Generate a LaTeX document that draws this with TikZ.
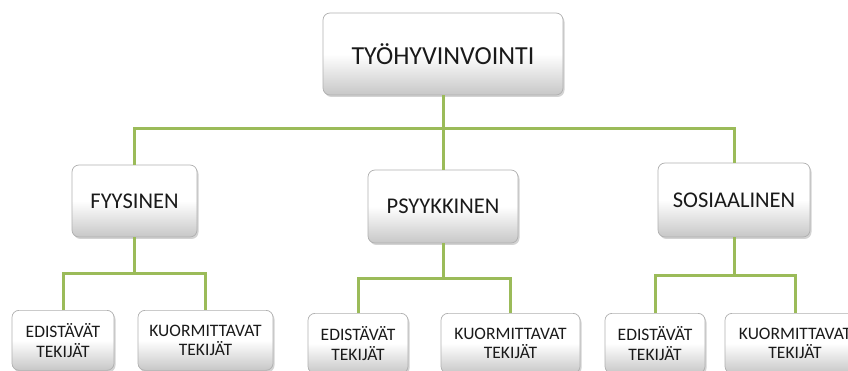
\documentclass[tikz,border=0pt]{standalone}
\usepackage{fontspec}
\setmainfont{Carlito}
\usetikzlibrary{calc,shadows}
\definecolor{olive}{HTML}{9BBB59}
\definecolor{boxline}{HTML}{B0B0B0}
\definecolor{ink}{HTML}{1A1A1A}
\begin{document}
\begin{tikzpicture}[x=1pt,y=-1pt,
    box/.style={draw=boxline, line width=0.7pt, rounded corners=7pt,
        top color=white, bottom color=black!22, middle color=white,
        drop shadow={opacity=0.35, shadow xshift=1.5pt, shadow yshift=-2pt},
        text=ink, align=center, inner sep=2pt},
    link/.style={olive, line width=3pt}]
        \useasboundingbox (0,0) rectangle (848,371);
        \clip (0,0) rectangle (848,371);
        \node[box, minimum width=240pt, minimum height=82pt, font=\fontsize{26}{30}\selectfont] (work) at (443,54) {TYÖHYVINVOINTI};
        \node[box, minimum width=125pt, minimum height=72pt, font=\fontsize{22.5}{26}\selectfont] (fyys) at (134.5,201) {FYYSINEN};
        \node[box, minimum width=150pt, minimum height=73pt, font=\fontsize{22.5}{26}\selectfont] (psy) at (443,206.5) {PSYYKKINEN};
        \node[box, minimum width=152pt, minimum height=74pt, font=\fontsize{22.5}{26}\selectfont] (sos) at (734,200) {SOSIAALINEN};
        \foreach \n/\x/\w/\y/\t in {f1/63/102/310/{EDISTÄVÄT\\TEKIJÄT}, f2/205.5/135/310/{KUORMITTAVAT\\TEKIJÄT},
                                   p1/358/100/313/{EDISTÄVÄT\\TEKIJÄT}, p2/510.5/139/313/{KUORMITTAVAT\\TEKIJÄT},
                                   s1/655/100/313/{EDISTÄVÄT\\TEKIJÄT}, s2/795/140/313/{KUORMITTAVAT\\TEKIJÄT}}{
        \node[box, anchor=north, minimum width=\w pt, minimum height=60pt, font=\fontsize{17.5}{19.5}\selectfont] (\n) at (\x,\y) {\t};
        }
        \coordinate (bus) at (443,129);
        \draw[link] (work.south) -- (psy.north);
        \draw[link] (fyys.north) |- (bus) -| (sos.north);
        \foreach \p/\a/\b in {fyys/f1/f2, psy/p1/p2, sos/s1/s2}{
        \draw[link] (\p.south) -- ($(\p.south)!0.5!(\p.south |- \a.north)$);
        \draw[link] (\a.north) |- ($(\p.south)!0.5!(\a.north)$) -| (\b.north);
        }
\end{tikzpicture}
\end{document}
